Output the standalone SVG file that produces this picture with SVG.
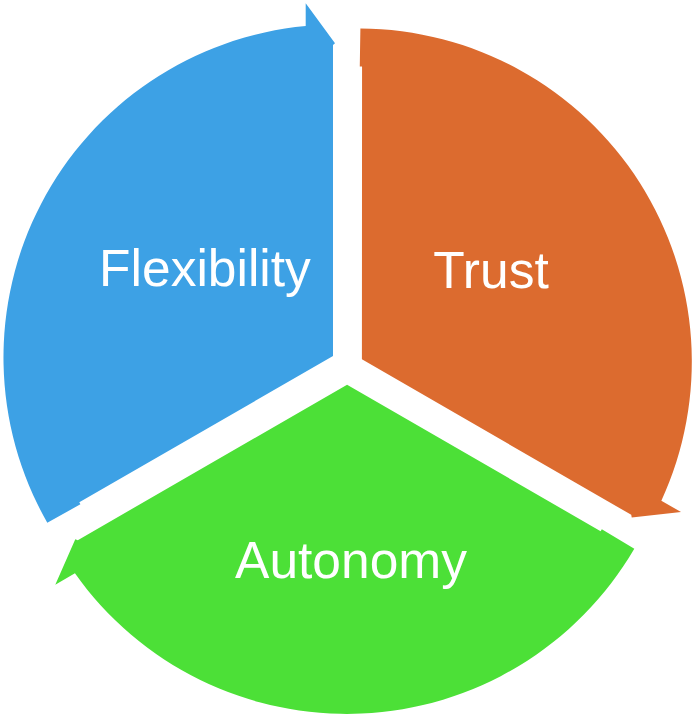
<svg xmlns="http://www.w3.org/2000/svg" xmlns:xlink="http://www.w3.org/1999/xlink" width="692" height="715" viewBox="0 0 692 715">
  <style>
    .label { font-family: "Liberation Sans", Arial, sans-serif; font-size: 51.5px; fill: #ffffff; text-anchor: middle; }
  </style>
  <defs>
    <!-- One 120-degree wedge with a half arrowhead at its clockwise end; the other two are rotations of it about (346.5, 366) -->
    <path id="segment" d="M 333 356 L 333 45 L 335 43.3 L 305.7 3.3 L 305.7 26 A 333 333 0 0 0 47.3 522.7 L 80.4 504.3 L 79.3 502.3 Z"/>
  </defs>

  <rect width="692" height="715" fill="#ffffff"/>

  <g id="flexibility">
    <use href="#segment" xlink:href="#segment" fill="#3DA1E5"/>
    <text class="label" x="205" y="286">Flexibility</text>
  </g>

  <g id="trust">
    <use href="#segment" xlink:href="#segment" fill="#DC6B2F" transform="rotate(120 346.5 366)"/>
    <text class="label" x="491" y="288">Trust</text>
  </g>

  <g id="autonomy">
    <use href="#segment" xlink:href="#segment" fill="#4CE037" transform="translate(2.5 2) rotate(240 346.5 366)"/>
    <text class="label" x="351" y="578">Autonomy</text>
  </g>
</svg>
